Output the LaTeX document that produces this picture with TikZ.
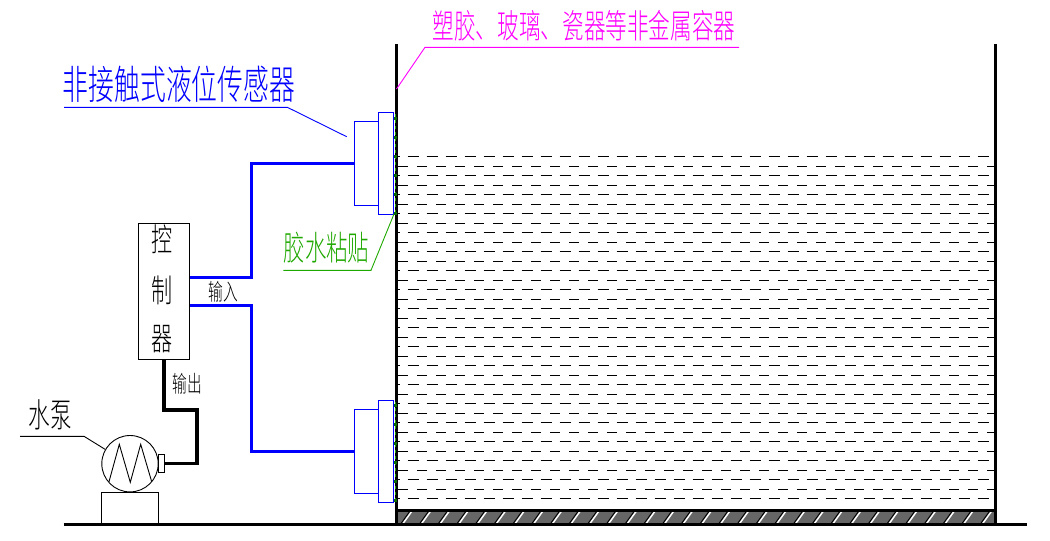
\documentclass[tikz,border=0pt]{standalone}
\usepackage{fontspec}
\usepackage{tikz}
\usetikzlibrary{positioning, calc}
\newfontfamily\cjk{Noto Sans CJK SC Light}
\definecolor{cLabel}{HTML}{FF00FF}
\definecolor{cWire}{HTML}{0000FF}
\definecolor{cGlue}{HTML}{1FA800}
\definecolor{cGlueDk}{HTML}{0B6B00}
\newcommand{\cad}[2]{\fontsize{#1}{#1}\selectfont\cjk\addfontfeature{FakeStretch=#2}}
\tikzset{
  wall/.style={line width=3pt, black},
  outline/.style={rectangle, draw=#1, line width=0.9pt, inner sep=0pt, outer sep=0pt},
  wireblue/.style={line width=3pt, cWire},
  wireblack/.style={line width=3.2pt, black},
  leader/.style={line width=0.9pt, color=#1},
  caption/.style={text=#1, inner sep=0pt},
  water/.style={line width=1pt, black},
}

\begin{document}
\begin{tikzpicture}[x=1pt, y=-1pt]

  \useasboundingbox (0,0) rectangle (1050,541);

  % water surface, two staggered rows
  \foreach \k in {0,...,18}
    \draw[water, dash pattern=on 11pt off 8pt, dash phase=8.3pt] (397,156.3+19*\k) -- (994,156.3+19*\k);
  \foreach \k in {0,...,17}
    \draw[water, dash pattern=on 10pt off 9pt] (398,166.3+19*\k) -- (994,166.3+19*\k);

  % floor of the tank
  \fill[black!60] (397,510) rectangle (995,524);
  \foreach \x in {0,...,31}
    \draw[white, line width=1.5pt] (403+18.7*\x,523.5) -- (412+18.7*\x,511);
  \foreach \x in {0,...,31}
    \draw[black, line width=0.9pt] (401+18.7*\x,523.5) -- (410+18.7*\x,511);

  % tank and ground
  \draw[wall] (396.5,44) -- (396.5,524);
  \draw[wall] (995.5,44) -- (995.5,524);
  \draw[wall] (396.5,510) -- (995.5,510);
  \draw[wall] (63.5,524.5) -- (1027,524.5);

  % sensors
  \node[outline=cWire, minimum width=15.4pt, minimum height=102pt] (plateA) at (386,163.3) {};
  \node[outline=cWire, minimum width=24pt, minimum height=84pt, left=0pt of plateA] (bodyA) {};
  \node[outline=cWire, minimum width=15.4pt, minimum height=102pt] (plateB) at (386,451.3) {};
  \node[outline=cWire, minimum width=24pt, minimum height=84pt, left=0pt of plateB] (bodyB) {};

  % glue
  \draw[cGlue, line width=1pt, dash pattern=on 3pt off 3pt] (395.5,114) -- (395.5,214);
  \draw[cGlue, line width=1pt, dash pattern=on 3pt off 3pt] (395.5,402) -- (395.5,502);
  \foreach \y in {118.7,137.7,...,214}
    \fill[cGlueDk] (394,\y-1.5) rectangle (396.5,\y+1.5);
  \foreach \y in {405,424,...,501}
    \fill[cGlueDk] (394,\y-1.5) rectangle (396.5,\y+1.5);

  % controller
  \node[outline=black, minimum width=51pt, minimum height=136pt] (ctrl) at (164,291.3) {};
  \node[caption=black, font=\cad{32}{0.66}] (ctrlA) at (162,239) {控};
  \node[caption=black, font=\cad{32}{0.66}] (ctrlB) at (162,290.5) {制};
  \node[caption=black, font=\cad{32}{0.66}] (ctrlC) at (162,339.5) {器};

  \coordinate (busA) at (251,277);
  \coordinate (busB) at (251,305);
  \coordinate (inA) at (ctrl.east |- busA);
  \coordinate (inB) at (ctrl.east |- busB);
  \draw[wireblue] (bodyA.west) -| (busA) -- (inA);
  \draw[wireblue] (bodyB.west) -| (busB) -- (inB);
  \node[caption=black, font=\cad{23}{0.64}] (lblIn) at (223,291.5) {输入};

  % pump
  \node[circle, draw, line width=0.9pt, inner sep=0pt, minimum size=56.4pt] (pump) at (130,463.7) {};
  \node[outline=black, minimum width=57pt, minimum height=32pt, below=0.5pt of pump] (base) {};
  \node[outline=black, minimum width=5.5pt, minimum height=17.6pt, right=0pt of pump] (port) {};
  \draw[line width=0.9pt] (109,481.7) -- (119.3,444.3) -- (130.3,482.3) -- (140.7,444.3) -- (151.7,481.7);

  \coordinate (bendOut) at (197,410);
  \draw[wireblack] (ctrl.south) |- (bendOut) |- (port.east);
  \node[caption=black, font=\cad{23}{0.64}] (lblOut) at (187,383.5) {输出};

  % leaders
  \node[caption=cLabel, font=\cad{33.5}{0.645}] (lblTank) at (584,26) {塑胶、玻璃、瓷器等非金属容器};
  \coordinate (tankA) at (739,47.3);
  \coordinate (tankB) at (425,47.3);
  \coordinate (tankC) at (396.5,89);
  \draw[leader=cLabel] (tankA) -- (tankB) -- (tankC);

  \node[caption=cWire, font=\cad{40}{0.645}] (lblSensor) at (179,84) {非接触式液位传感器};
  \coordinate (sensorA) at (64,107.3);
  \coordinate (sensorB) at (287.3,107.3);
  \coordinate (sensorC) at (346.7,136.7);
  \draw[leader=cWire] (sensorA) -- (sensorB) -- (sensorC);

  \node[caption=cGlue, font=\cad{34}{0.63}] (lblGlue) at (326.5,248) {胶水粘贴};
  \coordinate (glueA) at (283.3,270.3);
  \coordinate (glueB) at (371,270.3);
  \coordinate (glueC) at (394,214);
  \draw[leader=cGlue] (glueA) -- (glueB) -- (glueC);

  \node[caption=black, font=\cad{33.5}{0.645}] (lblPump) at (50,415) {水泵};
  \coordinate (pumpA) at (20,436.3);
  \coordinate (pumpB) at (84,436.3);
  \draw[leader=black] (pumpA) -- (pumpB) -- (pump.150);

\end{tikzpicture}
\end{document}
